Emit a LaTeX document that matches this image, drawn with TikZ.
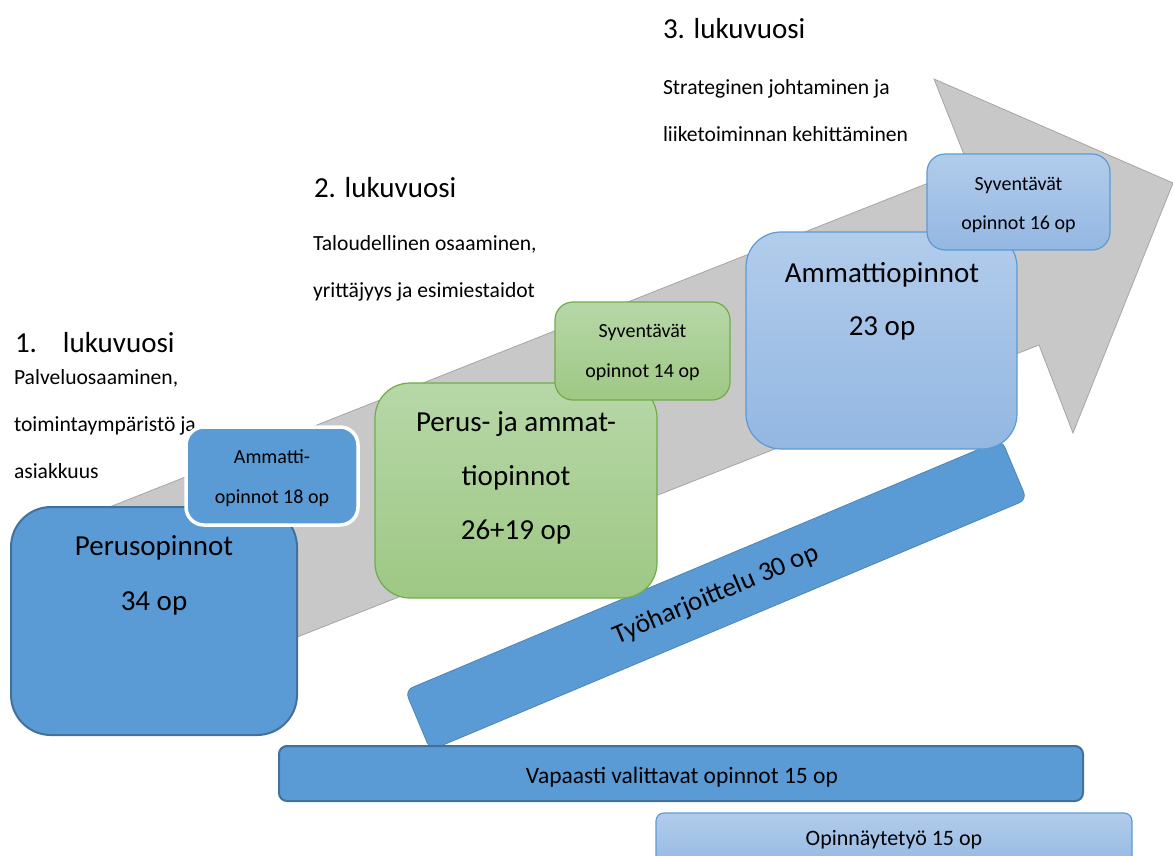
\documentclass[tikz,border=0pt]{standalone}
\usepackage{fontspec}
\setmainfont{Carlito}
\definecolor{boxblue}{RGB}{91,155,213}
\definecolor{boxedge}{RGB}{65,113,156}
\definecolor{lightbluetop}{RGB}{178,204,235}
\definecolor{lightbluebot}{RGB}{147,183,226}
\definecolor{greentop}{RGB}{183,215,168}
\definecolor{greenbot}{RGB}{158,200,132}
\definecolor{greenedge}{RGB}{112,173,71}
\definecolor{arrowfill}{RGB}{200,200,200}
\definecolor{arrowedge}{RGB}{165,165,165}
\begin{document}
\begin{tikzpicture}[x=1pt,y=-1pt,
  every node/.style={inner sep=0pt, outer sep=0pt, text=black},
  bigfont/.style={font=\fontsize{29}{35}\selectfont},
  smallfont/.style={font=\fontsize{21.6}{26}\selectfont},
  boxfont/.style={font=\fontsize{20}{24}\selectfont},
  workfont/.style={font=\fontsize{27}{32}\selectfont},
  freefont/.style={font=\fontsize{23.5}{28}\selectfont},
  thesisfont/.style={font=\fontsize{22}{26}\selectfont},
  darkbox/.style={draw=boxedge, line width=2pt, fill=boxblue},
  whitebox/.style={draw=white, line width=3.5pt, fill=boxblue},
  greenbox/.style={draw=greenedge, line width=1.2pt, top color=greentop, bottom color=greenbot},
  lightbox/.style={draw=boxblue, line width=1.2pt, top color=lightbluetop, bottom color=lightbluebot},
  arrowshape/.style={draw=arrowedge, line width=0.8pt, fill=arrowfill, line join=miter}
]
\useasboundingbox (0,0) rectangle (1173,855);
\clip (0,0) rectangle (1173,855);

% big grey arrow running up to the right
\coordinate (tailtop) at (80,518.7);
\coordinate (innertop) at (969,167);
\coordinate (barbtop) at (934,79);
\coordinate (tip) at (1173,183);
\coordinate (barbbot) at (1073,433);
\coordinate (innerbot) at (1039,345);
\coordinate (tailbot) at (80,722.5);
\draw[arrowshape] (tailtop) -- (innertop) -- (barbtop) -- (tip) -- (barbbot) -- (innerbot) -- (tailbot) -- cycle;

% year headings and descriptions
\node[bigfont, anchor=base west] (y1) at (15,352) {1.\hspace{26pt}lukuvuosi};
\node[smallfont, anchor=base west] (y1a) at (14,384) {Palveluosaaminen,};
\node[smallfont, anchor=base west] (y1b) at (14,431) {toimintaympäristö ja};
\node[smallfont, anchor=base west] (y1c) at (14,478) {asiakkuus};
\node[bigfont, anchor=base west] (y2) at (314,197) {2. lukuvuosi};
\node[smallfont, anchor=base west] (y2a) at (313,250) {Taloudellinen osaaminen,};
\node[smallfont, anchor=base west] (y2b) at (313,297) {yrittäjyys ja esimiestaidot};
\node[bigfont, anchor=base west] (y3) at (663,38) {3. lukuvuosi};
\node[smallfont, anchor=base west] (y3a) at (663,94) {Strateginen johtaminen ja};
\node[smallfont, anchor=base west] (y3b) at (663,141) {liiketoiminnan kehittäminen};

% practical training bar
\node[fill=boxblue, draw=boxblue!85!black, line width=0.8pt, rounded corners=8pt,
      minimum width=647pt, minimum height=65pt, rotate=22.8, workfont] (work) at (716,595) {Työharjoittelu 30 op};

% first year
\node[darkbox, rounded corners=40pt, minimum width=286pt, minimum height=228pt] (perus) at (154,621) {};
\node[bigfont, anchor=base] (perusA) at (154,555) {Perusopinnot};
\node[bigfont, anchor=base] (perusB) at (154,610) {34 op};
\node[whitebox, rounded corners=18pt, minimum width=172pt, minimum height=98pt] (amm18) at (272,476) {};
\node[boxfont, anchor=base] (amm18A) at (272,463) {Ammatti-};
\node[boxfont, anchor=base] (amm18B) at (272,503) {opinnot 18 op};

% second year
\node[greenbox, rounded corners=35pt, minimum width=282pt, minimum height=215pt] (pa) at (516,490.5) {};
\node[bigfont, anchor=base] (paA) at (516,431) {Perus- ja ammat-};
\node[bigfont, anchor=base] (paB) at (516,485) {tiopinnot};
\node[bigfont, anchor=base] (paC) at (516,539) {26+19 op};
\node[greenbox, rounded corners=18pt, minimum width=175pt, minimum height=98pt] (syv14) at (642.5,351) {};
\node[boxfont, anchor=base] (syv14A) at (642.5,337) {Syventävät};
\node[boxfont, anchor=base] (syv14B) at (642.5,377) {opinnot 14 op};

% third year
\node[lightbox, rounded corners=35pt, minimum width=271pt, minimum height=217pt] (amm23) at (881.5,340.5) {};
\node[bigfont, anchor=base] (amm23A) at (882,282) {Ammattiopinnot};
\node[bigfont, anchor=base] (amm23B) at (882,335) {23 op};
\node[lightbox, rounded corners=18pt, minimum width=183pt, minimum height=96pt] (syv16) at (1018.5,202) {};
\node[boxfont, anchor=base] (syv16A) at (1018.5,190) {Syventävät};
\node[boxfont, anchor=base] (syv16B) at (1018.5,229) {opinnot 16 op};

% bars along the bottom
\node[darkbox, rounded corners=8pt, minimum width=804pt, minimum height=55pt] (free) at (681,773.5) {};
\node[freefont, anchor=base] (freeT) at (682,783) {Vapaasti valittavat opinnot 15 op};
\node[lightbox, rounded corners=8pt, minimum width=476pt, minimum height=56pt] (thesis) at (894,841) {};
\node[thesisfont, anchor=base] (thesisT) at (894,845) {Opinnäytetyö 15 op};
\end{tikzpicture}
\end{document}
